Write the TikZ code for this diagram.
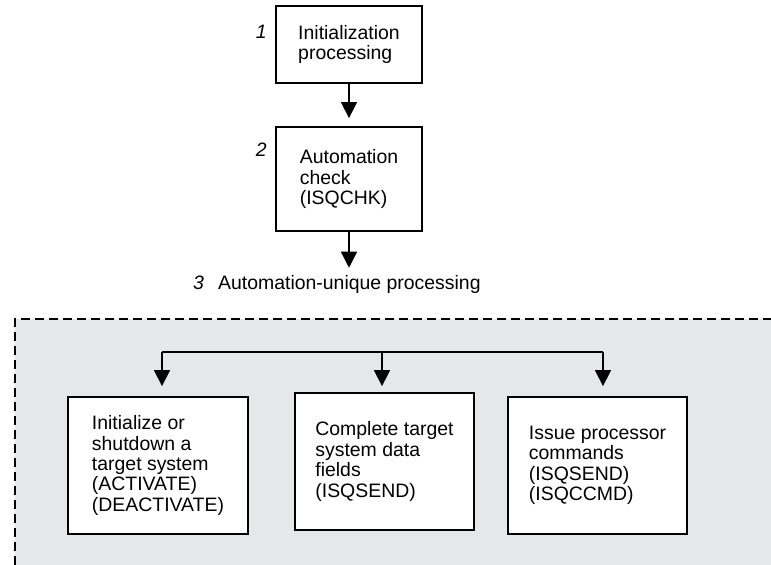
\documentclass[tikz,border=0pt]{standalone}
\usepackage{fontspec}
\setmainfont{Liberation Sans}
\usetikzlibrary{arrows.meta}
\definecolor{panelgray}{HTML}{E6E7E9}
\tikzset{
	procbox/.style={draw,line width=1.8bp,fill=white,align=left,inner sep=0pt,font=\fontsize{19.5}{20.5}\selectfont},
	stepno/.style={inner sep=0pt,font=\fontsize{19.5}{20.5}\selectfont\itshape},
	stepnote/.style={inner sep=0pt,font=\fontsize{19.5}{20.5}\selectfont},
	flow/.style={line width=1.5bp,-{Triangle[length=16bp,width=16bp]}}
}
\begin{document}
\begin{tikzpicture}[x=1bp,y=1bp]
	\useasboundingbox (0,0) rectangle (771,565);
	\fill[panelgray] (15,0) rectangle (771,246);
	\draw[line width=1.5bp,dash pattern=on 9bp off 5bp] (15,0) -- (15,246) -- (771,246);

	\node[procbox,minimum width=146bp,minimum height=77bp] (init) at (349,520.5){Initialization\\processing};
	\node[procbox,minimum width=146bp,minimum height=104bp] (check) at (349,386){Automation\\check\\(ISQCHK)};
	\node[stepno,anchor=base east] (n1) at (267,526){1};
	\node[stepno,anchor=base east] (n2) at (267,408){2};
	\node[stepno,anchor=base west] (n3) at (193,275){3};
	\node[stepnote,anchor=base west] (unique) at (218,275){Automation-unique processing};

	\node[procbox,minimum width=180bp,minimum height=137bp] (target) at (158,99.5){Initialize or\\shutdown a\\target system\\(ACTIVATE)\\(DEACTIVATE)};
	\node[procbox,minimum width=179bp,minimum height=137bp] (fields) at (384.5,103.5){Complete target\\system data\\fields\\(ISQSEND)};
	\node[procbox,minimum width=179bp,minimum height=137bp] (cmds) at (597.5,99.5){Issue processor\\commands\\(ISQSEND)\\(ISQCCMD)};

	\coordinate (forkA) at (162,213);
	\coordinate (forkB) at (382,213);
	\coordinate (forkC) at (603,213);

	\draw[flow,shorten >=8bp] (init) -- (check);
	\draw[flow,shorten >=8bp] (check) -- (check.south |- unique.north);
	\draw[line width=1.5bp] (forkA) -- (forkC);
	\draw[flow,shorten >=10bp] (forkA) -- (forkA |- target.north);
	\draw[flow,shorten >=6bp] (forkB) -- (forkB |- fields.north);
	\draw[flow,shorten >=10bp] (forkC) -- (forkC |- cmds.north);
\end{tikzpicture}
\end{document}
